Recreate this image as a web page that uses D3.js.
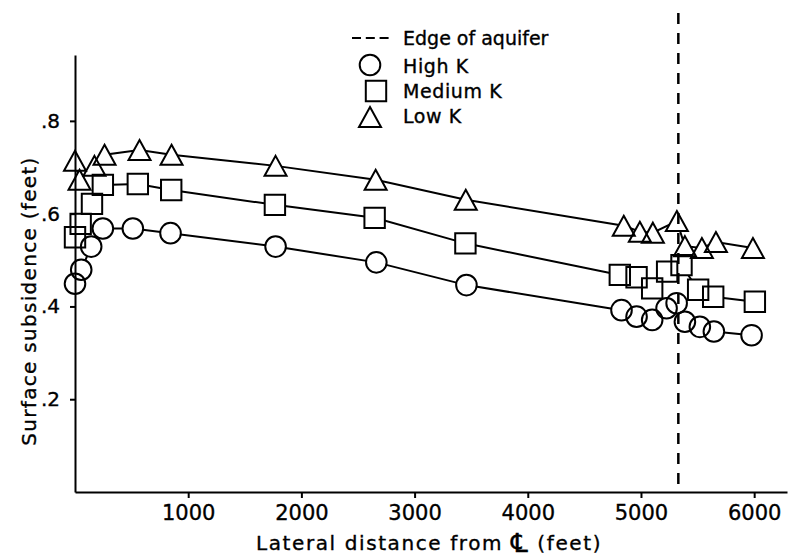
<!DOCTYPE html>
<html>
<head>
<meta charset="utf-8">
<script src="https://cdn.jsdelivr.net/npm/d3@7"></script>
<style>
  html, body { margin: 0; padding: 0; background: #fff; }
  svg { display: block; }
  text { font-family: "DejaVu Sans", sans-serif; fill: #000; stroke: #000; stroke-width: 0.35px; }
</style>
</head>
<body>
<svg id="chart" width="793" height="557"></svg>
<script>
// Lateral distance (feet) and surface subsidence (feet) for each permeability case
const highKDistance = [0, 55, 143, 246, 511, 844, 1772, 2662, 3458, 4828, 4961, 5099, 5226, 5315, 5388, 5520, 5644, 5977];
const highKSubsidence = [0.449, 0.479, 0.529, 0.568, 0.568, 0.558, 0.529, 0.495, 0.446, 0.392, 0.378, 0.371, 0.396, 0.407, 0.367, 0.356, 0.346, 0.338];

const mediumKDistance = [0, 50, 150, 246, 555, 850, 1766, 2647, 3449, 4813, 4961, 5099, 5231, 5358, 5505, 5638, 6006];
const mediumKSubsidence = [0.549, 0.578, 0.621, 0.662, 0.664, 0.651, 0.619, 0.591, 0.536, 0.468, 0.463, 0.439, 0.475, 0.489, 0.436, 0.421, 0.410];

const lowKDistance = [0, 40, 172, 261, 570, 853, 1772, 2656, 3452, 4848, 4990, 5105, 5317, 5388, 5538, 5662, 5989];
const lowKSubsidence = [0.714, 0.673, 0.703, 0.727, 0.737, 0.727, 0.703, 0.673, 0.630, 0.574, 0.561, 0.559, 0.584, 0.530, 0.526, 0.539, 0.526];

const aquiferEdge = 5330;

const xTicks = [1000, 2000, 3000, 4000, 5000, 6000];
const yTicks = [0.2, 0.4, 0.6, 0.8];

const seriesNames = ["High K", "Medium K", "Low K"];
const seriesShapes = ["circle", "square", "triangle"];

const series = [
  { name: seriesNames[0], shape: seriesShapes[0], xs: highKDistance, ys: highKSubsidence },
  { name: seriesNames[1], shape: seriesShapes[1], xs: mediumKDistance, ys: mediumKSubsidence },
  { name: seriesNames[2], shape: seriesShapes[2], xs: lowKDistance, ys: lowKSubsidence }
];

const svg = d3.select("#chart");

const x = d3.scaleLinear().domain([0, 6290]).range([75, 787]);
const y = d3.scaleLinear().domain([0, 0.942]).range([492, 55]);

// marker outline path centred on (0,0)
function markerPath(shape) {
  if (shape === "circle") {
    const r = 10.3;
    return `M${-r},0A${r},${r} 0 1,0 ${r},0A${r},${r} 0 1,0 ${-r},0Z`;
  }
  if (shape === "square") {
    const h = 10.2;
    return `M${-h},${-h}H${h}V${h}H${-h}Z`;
  }
  // triangle, bounding box centred on the point
  return "M0,-10L11,10L-11,10Z";
}

const defs = svg.append("defs");

// Axes
const xAxis = d3.axisBottom(x).tickValues(xTicks).tickFormat(d3.format("d"))
  .tickSize(6).tickSizeOuter(0).tickPadding(7);
const yAxis = d3.axisLeft(y).tickValues(yTicks)
  .tickFormat(d => d3.format(".1f")(d).replace(/^0/, ""))
  .tickSize(5).tickSizeOuter(0).tickPadding(10);

const gx = svg.append("g").attr("transform", `translate(0,${y(0)})`).call(xAxis);
gx.select(".domain").attr("stroke-width", 2);
gx.selectAll(".tick line").attr("stroke-width", 2);
gx.selectAll(".tick text").style("font-size", "21px").style("font-family", "DejaVu Sans");

const gy = svg.append("g").attr("transform", `translate(${x(0)},0)`).call(yAxis);
gy.select(".domain").attr("stroke-width", 2);
gy.selectAll(".tick line").attr("stroke-width", 2);
gy.selectAll(".tick text").style("font-size", "20px").style("font-family", "DejaVu Sans");

// Axis titles
const xTitle = svg.append("text")
  .attr("x", 429).attr("y", 550)
  .attr("text-anchor", "middle")
  .style("font-size", "20px").style("letter-spacing", "1.6px");
xTitle.append("tspan").text("Lateral distance from ");
xTitle.append("tspan").style("font-size", "26px").attr("dy", 2).text("\u2104");
xTitle.append("tspan").attr("dy", -2).text(" (feet)");

svg.append("text")
  .attr("transform", "translate(36,301) rotate(-90)")
  .attr("text-anchor", "middle")
  .style("font-size", "20px").style("letter-spacing", "1.3px")
  .text("Surface subsidence (feet)");

// Edge of aquifer
svg.append("line")
  .attr("x1", x(aquiferEdge)).attr("x2", x(aquiferEdge))
  .attr("y1", 13).attr("y2", y(0))
  .attr("stroke", "#000").attr("stroke-width", 2.5)
  .attr("stroke-dasharray", "11,9");

// Series: connecting lines are masked out inside the hollow markers
const line = d3.line().x(d => x(d[0])).y(d => y(d[1]));

series.forEach((s, i) => {
  const pts = s.xs.map((v, k) => [v, s.ys[k]]);
  const mask = defs.append("mask").attr("id", `mask-${i}`)
    .attr("maskUnits", "userSpaceOnUse")
    .attr("x", 0).attr("y", 0).attr("width", 793).attr("height", 557);
  mask.append("rect").attr("width", 793).attr("height", 557).attr("fill", "#fff");
  mask.selectAll("path").data(pts).join("path")
    .attr("d", markerPath(s.shape))
    .attr("transform", d => `translate(${x(d[0])},${y(d[1])})`)
    .attr("fill", "#000");

  svg.append("path")
    .datum(pts)
    .attr("d", line)
    .attr("fill", "none")
    .attr("stroke", "#000")
    .attr("stroke-width", 2)
    .attr("mask", `url(#mask-${i})`);

  svg.append("g").selectAll("path").data(pts).join("path")
    .attr("d", markerPath(s.shape))
    .attr("transform", d => `translate(${x(d[0])},${y(d[1])})`)
    .attr("fill", "none")
    .attr("stroke", "#000")
    .attr("stroke-width", 2);
});

// Legend
const legend = svg.append("g");
legend.append("line")
  .attr("x1", 352).attr("x2", 388.6).attr("y1", 38).attr("y2", 38)
  .attr("stroke", "#000").attr("stroke-width", 2)
  .attr("stroke-dasharray", "9,4.8");
legend.append("text").attr("x", 403).attr("y", 45)
  .style("font-size", "19px")
  .text("Edge of aquifer");

const legendRows = [
  { shape: seriesShapes[0], label: seriesNames[0], mx: 370, my: 65, ty: 73 },
  { shape: seriesShapes[1], label: seriesNames[1], mx: 376, my: 91, ty: 98 },
  { shape: seriesShapes[2], label: seriesNames[2], mx: 370, my: 117, ty: 123 }
];
legendRows.forEach(r => {
  legend.append("path")
    .attr("d", markerPath(r.shape))
    .attr("transform", `translate(${r.mx},${r.my})`)
    .attr("fill", "none").attr("stroke", "#000").attr("stroke-width", 2);
  legend.append("text").attr("x", 403).attr("y", r.ty)
    .style("font-size", "19px").style("letter-spacing", "0.6px")
    .text(r.label);
});
</script>
</body>
</html>
